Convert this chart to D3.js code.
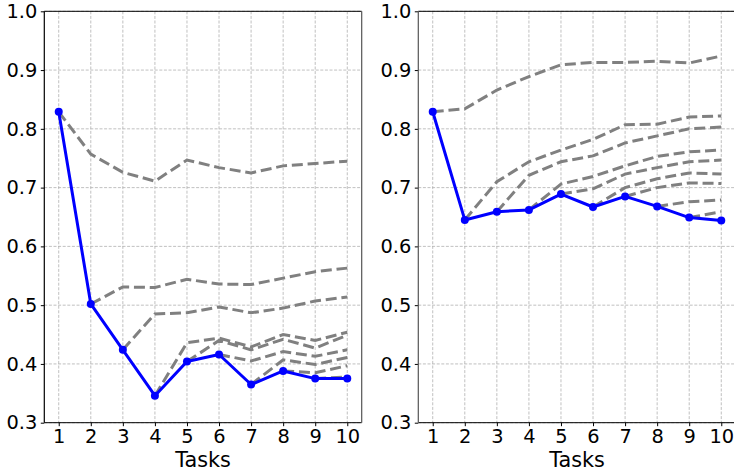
<!DOCTYPE html>
<html>
<head>
<meta charset="utf-8">
<script src="https://cdn.jsdelivr.net/npm/d3@7"></script>
<style>
    body { margin: 0; background: #fff; }
    svg { display: block; font-family: "DejaVu Sans", sans-serif; }
</style>
</head>
<body>
<div id="chart"></div>
<script>
const tasks = [1, 2, 3, 4, 5, 6, 7, 8, 9, 10];
const yTicks = [0.3, 0.4, 0.5, 0.6, 0.7, 0.8, 0.9, 1.0];

// left panel: main (blue) curve and one dashed curve starting at each task
const leftBlue = [0.829, 0.502, 0.424, 0.346, 0.404, 0.416, 0.365, 0.388, 0.375, 0.375];
const leftCurves = [
    [0.829, 0.757, 0.726, 0.711, 0.747, 0.734, 0.725, 0.737, 0.741, 0.745],
    [0.502, 0.531, 0.530, 0.544, 0.536, 0.535, 0.546, 0.557, 0.563],
    [0.424, 0.485, 0.487, 0.497, 0.487, 0.495, 0.507, 0.514],
    [0.346, 0.436, 0.444, 0.429, 0.450, 0.440, 0.454],
    [0.404, 0.440, 0.424, 0.442, 0.427, 0.449],
    [0.416, 0.405, 0.421, 0.413, 0.424],
    [0.365, 0.407, 0.399, 0.411],
    [0.388, 0.385, 0.397],
    [0.375, 0.378]
];

// right panel
const rightBlue = [0.829, 0.645, 0.659, 0.662, 0.689, 0.667, 0.685, 0.668, 0.649, 0.644];
const rightCurves = [
    [0.829, 0.834, 0.866, 0.889, 0.909, 0.913, 0.913, 0.915, 0.912, 0.924],
    [0.645, 0.710, 0.744, 0.764, 0.782, 0.807, 0.808, 0.820, 0.822],
    [0.659, 0.721, 0.744, 0.754, 0.776, 0.788, 0.800, 0.803],
    [0.662, 0.706, 0.719, 0.737, 0.753, 0.761, 0.764],
    [0.689, 0.698, 0.723, 0.734, 0.744, 0.747],
    [0.667, 0.700, 0.715, 0.725, 0.723],
    [0.685, 0.700, 0.708, 0.707],
    [0.668, 0.676, 0.679],
    [0.649, 0.659]
];

const width = 734;
const height = 475;
const plotTop = 11.3, plotBottom = 422.7;
const panelW = 317.4;
const tickFont = 19.4;
const labelFont = 20.8;

const svg = d3.select("#chart")
    .append("svg")
    .attr("width", width)
    .attr("height", height);

function drawPanel(left, blue, curves, leftSpineColor, rightSpineColor) {
    const x = d3.scaleLinear().domain([0.55, 10.45]).range([left, left + panelW]);
    const y = d3.scaleLinear().domain([0.3, 1.0]).range([plotBottom, plotTop]);
    const g = svg.append("g");

    // grid
    g.selectAll(".vgrid")
        .data(tasks)
        .join("line")
        .attr("x1", d => x(d)).attr("x2", d => x(d))
        .attr("y1", plotTop).attr("y2", plotBottom)
        .attr("stroke", "#b0b0b0")
        .attr("stroke-width", 0.8)
        .attr("stroke-dasharray", "3,1.6");
    g.selectAll(".hgrid")
        .data(yTicks)
        .join("line")
        .attr("x1", left).attr("x2", left + panelW)
        .attr("y1", d => y(d)).attr("y2", d => y(d))
        .attr("stroke", "#b0b0b0")
        .attr("stroke-width", 0.8)
        .attr("stroke-dasharray", "3,1.6");

    const line = d3.line()
        .x(d => x(d.t))
        .y(d => y(d.v));

    // dashed curves, each starting from task i+1
    curves.forEach((c, i) => {
        const pts = c.map((v, j) => ({ t: tasks[i + j], v: v }));
        g.append("path")
            .datum(pts)
            .attr("d", line)
            .attr("fill", "none")
            .attr("stroke", "#808080")
            .attr("stroke-width", 3)
            .attr("stroke-dasharray", "11,4.8");
    });

    const bluePts = blue.map((v, i) => ({ t: tasks[i], v: v }));
    g.append("path")
        .datum(bluePts)
        .attr("d", line)
        .attr("fill", "none")
        .attr("stroke", "#0000ff")
        .attr("stroke-width", 3)
        .attr("stroke-linejoin", "round");
    g.selectAll(".dot")
        .data(bluePts)
        .join("circle")
        .attr("cx", d => x(d.t))
        .attr("cy", d => y(d.v))
        .attr("r", 4)
        .attr("fill", "#0000ff");

    // axes
    const ax = g.append("g")
        .attr("transform", `translate(0,${plotBottom})`)
        .call(d3.axisBottom(x).tickValues(tasks).tickSize(3.5).tickPadding(3.5));
    const ay = g.append("g")
        .attr("transform", `translate(${left},0)`)
        .call(d3.axisLeft(y).tickValues(yTicks).tickFormat(d3.format(".1f")).tickSize(3.5).tickPadding(3.5));
    [ax, ay].forEach(a => {
        a.select(".domain").remove();
        a.selectAll("line").attr("stroke", "#000").attr("stroke-width", 1);
        a.selectAll("text")
            .attr("fill", "#000")
            .style("font-size", tickFont + "px")
            .style("font-family", "DejaVu Sans");
    });

    // spines
    g.append("line")
        .attr("x1", left).attr("x2", left + panelW)
        .attr("y1", plotTop).attr("y2", plotTop)
        .attr("stroke", "#000").attr("stroke-width", 1);
    g.append("line")
        .attr("x1", left).attr("x2", left + panelW)
        .attr("y1", plotBottom).attr("y2", plotBottom)
        .attr("stroke", "#000").attr("stroke-width", 1);
    g.append("line")
        .attr("x1", left).attr("x2", left)
        .attr("y1", plotTop).attr("y2", plotBottom)
        .attr("stroke", leftSpineColor).attr("stroke-width", 1.2);
    g.append("line")
        .attr("x1", left + panelW).attr("x2", left + panelW)
        .attr("y1", plotTop).attr("y2", plotBottom)
        .attr("stroke", rightSpineColor).attr("stroke-width", 1.2);

    g.append("text")
        .attr("x", left + panelW / 2)
        .attr("y", 467.3)
        .attr("text-anchor", "middle")
        .style("font-size", labelFont + "px")
        .text("Tasks");
}

drawPanel(44.3, leftBlue, leftCurves, "#000", "#555");
drawPanel(418.3, rightBlue, rightCurves, "#555", "#555");
</script>
</body>
</html>
